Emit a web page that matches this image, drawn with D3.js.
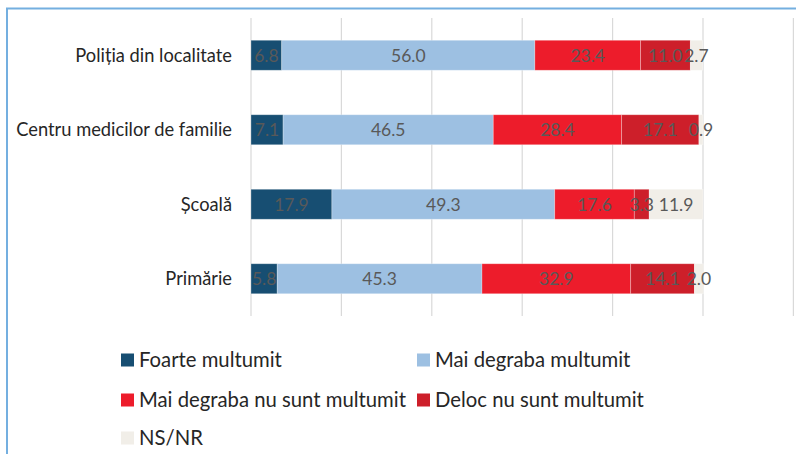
<!DOCTYPE html>
<html>
<head>
<meta charset="utf-8">
<script src="https://cdn.jsdelivr.net/npm/d3@7"></script>
<style>
  body { margin: 0; background: #fff; }
  text { font-family: Lato, "Open Sans", sans-serif; }
</style>
</head>
<body>
<script>
// data
var categories = ["Poliția din localitate", "Centru medicilor de familie", "Școală", "Primărie"];
var seriesNames = ["Foarte multumit", "Mai degraba multumit", "Mai degraba nu sunt multumit", "Deloc nu sunt multumit", "NS/NR"];
var foarte = [6.8, 7.1, 17.9, 5.8];
var maiDegraba = [56.0, 46.5, 49.3, 45.3];
var maiDegrabaNu = [23.4, 28.4, 17.6, 32.9];
var deloc = [11.0, 17.1, 3.3, 14.1];
var nsnr = [2.7, 0.9, 11.9, 2.0];
var xTicks = [0, 20, 40, 60, 80, 100, 120];

var colors = ["#174e72", "#9dc0e2", "#ed1c2b", "#cd1f2a", "#f1eee8"];
var allSeries = [foarte, maiDegraba, maiDegrabaNu, deloc, nsnr];

var W = 796, H = 454;
var svg = d3.select("body").append("svg").attr("width", W).attr("height", H);

// frame
svg.append("path")
  .attr("d", "M7,454 L7,8.5 L796,8.5")
  .attr("fill", "none").attr("stroke", "#74afe0").attr("stroke-width", 2);

var x = d3.scaleLinear().domain([0, 120]).range([251, 793.4]);
var y = d3.scaleBand().domain(categories).range([18, 316]).paddingInner(0.6).paddingOuter(0.3);

// gridlines
svg.append("g").selectAll("line").data(xTicks).join("line")
  .attr("x1", d => x(d)).attr("x2", d => x(d))
  .attr("y1", 18).attr("y2", 316)
  .attr("stroke", "#d9d9d9").attr("stroke-width", 1.2);

// stack
var rows = categories.map(function(c, i) {
  var o = { cat: c };
  seriesNames.forEach(function(s, j) { o[s] = allSeries[j][i]; });
  return o;
});
var stacked = d3.stack().keys(seriesNames)(rows);

var bh = 30;
var barG = svg.append("g");
var labG = svg.append("g");
stacked.forEach(function(layer, j) {
  barG.append("g").selectAll("rect").data(layer).join("rect")
    .attr("x", d => x(d[0]))
    .attr("width", d => x(d[1]) - x(d[0]))
    .attr("y", d => y(d.data.cat) + y.bandwidth() / 2 - bh / 2)
    .attr("height", bh)
    .attr("fill", colors[j])
    .attr("stroke", "#fff").attr("stroke-opacity", 0.35).attr("stroke-width", 0.8);
  // labels go on top of every bar
  labG.append("g").selectAll("text").data(layer).join("text")
    .attr("x", d => (x(d[0]) + x(d[1])) / 2)
    .attr("y", d => y(d.data.cat) + y.bandwidth() / 2)
    .attr("dy", "0.36em")
    .attr("text-anchor", "middle")
    .attr("font-size", 17.5)
    .attr("fill", "#595959")
    .text(d => (d[1] - d[0]).toFixed(1));
});

// category labels
svg.append("g").selectAll("text").data(categories).join("text")
  .attr("x", 232)
  .attr("y", d => y(d) + y.bandwidth() / 2)
  .attr("dy", "0.36em")
  .attr("text-anchor", "end")
  .attr("font-size", 18.3)
  .attr("fill", "#262626")
  .text(d => d);

// legend
var legPos = [[121, 360], [417, 360], [121, 400], [417, 400], [121, 438]];
var leg = svg.append("g").selectAll("g").data(seriesNames).join("g")
  .attr("transform", (d, i) => "translate(" + legPos[i][0] + "," + legPos[i][1] + ")");
leg.append("rect").attr("x", 0).attr("y", -6.5).attr("width", 13).attr("height", 13)
  .attr("fill", (d, i) => colors[i]);
leg.append("text").attr("x", 18).attr("dy", "0.36em")
  .attr("font-size", 20.3).attr("fill", "#262626").text(d => d);
</script>
</body>
</html>
